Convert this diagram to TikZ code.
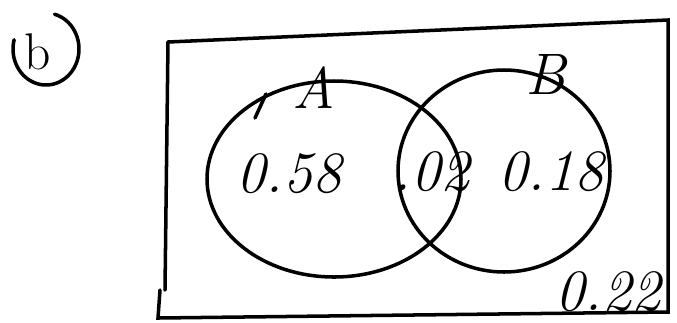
\documentclass[tikz,border=0pt]{standalone}
\begin{document}
\begin{tikzpicture}[x=0.03cm,y=-0.03cm,line width=3pt,line cap=round,
  val/.style={font=\fontsize{50}{50}\selectfont\itshape}]
\useasboundingbox (0,0) rectangle (677,322);
\coordinate (TL) at (168,42);
\coordinate (TR) at (668,20);
\coordinate (BR) at (668,312);
\coordinate (BL) at (158,318);
\draw (TL)--(TR)--(BR)--(BL)--(160,290);
\draw (165,290)--(TL);
\draw (334,179) ellipse [x radius=127, y radius=98];
\draw (504,171) ellipse [x radius=106, y radius=101];
\draw (255,118)--(266,94);
\node[val] (a) at (314,88) {A};
\node[val] (b) at (546,74) {B};
\node[val] (pa) at (289,174) {0.58};
\node[val] (pab) at (432,172) {.02};
\node[val] (pb) at (551,172) {0.18};
\node[val] (pn) at (608,292) {0.22};
\node[font=\fontsize{44}{44}\selectfont] (lbl) at (38,52) {b};
\draw (lbl.center) ++(8,-3) ++(195:33 and 36) arc[start angle=195,end angle=-75,x radius=33,y radius=36];
\end{tikzpicture}
\end{document}
